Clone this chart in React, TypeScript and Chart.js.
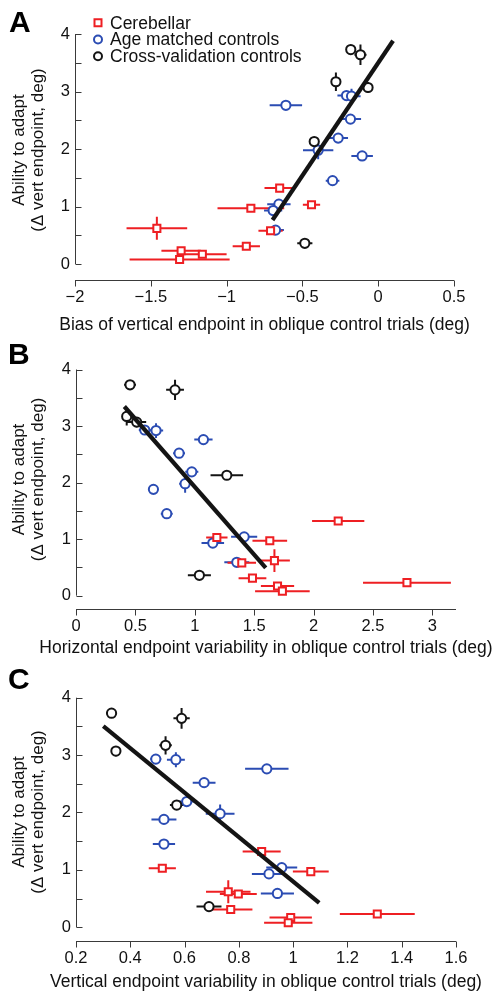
import React, { useEffect, useRef } from 'react';
import { Chart, registerables } from 'chart.js';

Chart.register(...registerables);

const FONT = "'Liberation Sans', Arial, Helvetica, sans-serif";
const RED = '#ee1f23';
const BLUE = '#2b4cb3';
const BLACK = '#141414';
const AXIS = '#3a3a3a';
const TEXT = '#111111';

// ---- Shared y values (ability to adapt, deg) per subject ----
const cerebellarY = [0.62, 0.23, 0.17, 0.08, 0.31, 0.97, 1.32, 0.58, 1.03];
const cerebellarYErr = [0.2, 0, 0, 0, 0, 0, 0, 0, 0];
const ageY = [2.76, 2.93, 2.92, 2.52, 2.19, 1.98, 1.88, 1.45, 1.04, 0.93, 0.59];
const ageYErr = [0, 0, 0.13, 0, 0, 0.16, 0, 0, 0, 0, 0];
const crossY = [3.73, 3.64, 3.17, 3.07, 2.13, 0.36];
const crossYErr = [0, 0.18, 0.16, 0.09, 0, 0];

// ---- Panel A: bias of vertical endpoint ----
const aCerebellarX = [-1.46, -1.3, -1.16, -1.31, -0.87, -0.84, -0.65, -0.71, -0.44];
const aCerebellarXErr = [0.2, 0.13, 0.16, 0.33, 0.09, 0.22, 0.1, 0.08, 0.057];
const aAgeX = [-0.609, -0.209, -0.176, -0.183, -0.264, -0.396, -0.106, -0.301, -0.655, -0.693, -0.677];
const aAgeXErr = [0.107, 0.06, 0.06, 0.07, 0.065, 0.1, 0.071, 0.045, 0.077, 0.06, 0.055];
const aCrossX = [-0.181, -0.117, -0.279, -0.067, -0.422, -0.484];
const aCrossXErr = [0.03, 0.04, 0.03, 0.03, 0.03, 0.05];
const aFitX = [-0.697, 0.098];
const aFitY = [0.765, 3.883];
const aXTicks = [-2, -1.5, -1, -0.5, 0, 0.5];

// ---- Panel B: horizontal endpoint variability ----
const bCerebellarX = [1.671, 2.787, 1.697, 1.738, 1.486, 1.632, 2.208, 1.396, 1.186];
const bCerebellarXErr = [0.13, 0.37, 0.14, 0.23, 0.117, 0.146, 0.22, 0.12, 0.09];
const bAgeX = [1.073, 0.579, 0.674, 0.868, 0.975, 0.919, 0.652, 0.764, 1.416, 1.152, 1.354];
const bAgeXErr = [0.077, 0.05, 0.06, 0.05, 0.055, 0.05, 0.03, 0.05, 0.11, 0.095, 0.105];
const bCrossX = [0.455, 0.834, 0.427, 0.511, 1.27, 1.039];
const bCrossXErr = [0.05, 0.075, 0.03, 0.08, 0.137, 0.097];
const bFitX = [0.407, 1.598];
const bFitY = [3.346, 0.492];
const bXTicks = [0, 0.5, 1, 1.5, 2, 2.5, 3];

// ---- Panel C: vertical endpoint variability ----
const cCerebellarX = [0.761, 1.31, 0.991, 0.982, 0.77, 1.065, 0.884, 0.798, 0.518];
const cCerebellarXErr = [0.082, 0.138, 0.078, 0.089, 0.08, 0.066, 0.07, 0.068, 0.05];
const cAgeX = [0.903, 0.494, 0.568, 0.672, 0.608, 0.731, 0.524, 0.524, 0.958, 0.911, 0.942];
const cAgeXErr = [0.08, 0.02, 0.033, 0.042, 0.03, 0.053, 0.046, 0.041, 0.057, 0.063, 0.061];
const cCrossX = [0.331, 0.589, 0.53, 0.347, 0.571, 0.69];
const cCrossXErr = [0.02, 0.03, 0.023, 0.015, 0.025, 0.046];
const cFitX = [0.3006, 1.096];
const cFitY = [3.506, 0.424];
const cXTicks = [0.2, 0.4, 0.6, 0.8, 1, 1.2, 1.4, 1.6];

const yTicks = [0, 0.5, 1, 1.5, 2, 2.5, 3, 3.5, 4];
const yTitle = ['Ability to adapt', '(\u0394 vert endpoint, deg)'];
const legendLabels = ['Cerebellar', 'Age matched controls', 'Cross-validation controls'];

const fmt = (v: number) => (v < 0 ? '\u2212' + String(Math.abs(v)) : String(v));

function points(xs: number[], ys: number[]) {
  return xs.map((x, i) => ({ x, y: ys[i] }));
}

function errorSegments(xs: number[], ys: number[], xErr: number[], yErr: number[]) {
  const pts: { x: number; y: number | null }[] = [];
  xs.forEach((x, i) => {
    const y = ys[i];
    if (xErr[i] > 0) {
      pts.push({ x: x - xErr[i], y }, { x: x + xErr[i], y }, { x, y: null });
    }
    if (yErr[i] > 0) {
      pts.push({ x, y: y - yErr[i] }, { x, y: y + yErr[i] }, { x, y: null });
    }
  });
  return pts;
}

const matlabAxes = {
  id: 'matlabAxes',
  beforeDatasetsDraw(chart: any) {
    const { ctx, chartArea, scales } = chart;
    const xs = scales.x;
    const ys = scales.y;
    ctx.save();
    ctx.strokeStyle = AXIS;
    ctx.lineWidth = 1;
    const xl = Math.round(chartArea.left) + 0.5;
    const yTop = ys.getPixelForValue(yTicks[yTicks.length - 1]);
    const yBot = ys.getPixelForValue(yTicks[0]);
    ctx.beginPath();
    ctx.moveTo(xl, yTop);
    ctx.lineTo(xl, yBot);
    ys.ticks.forEach((t: any) => {
      const py = Math.round(ys.getPixelForValue(t.value)) + 0.5;
      ctx.moveTo(xl, py);
      ctx.lineTo(xl + 6, py);
    });
    const yb = Math.round(chartArea.bottom) + 0.5;
    ctx.moveTo(xs.getPixelForValue(xs.min), yb);
    ctx.lineTo(xs.getPixelForValue(xs.max), yb);
    xs.ticks.forEach((t: any) => {
      const px = Math.round(xs.getPixelForValue(t.value)) + 0.5;
      ctx.moveTo(px, yb);
      ctx.lineTo(px, yb + 6);
    });
    ctx.stroke();
    ctx.restore();
  },
};

// x-axis title drawn without Chart.js's maxWidth squeeze (the titles are wider than the axis)
const xAxisTitle = {
  id: 'xAxisTitle',
  afterDraw(chart: any, _args: any, opts: any) {
    if (!opts || !opts.text) return;
    const { ctx, chartArea } = chart;
    ctx.save();
    ctx.font = `${opts.size}px ${FONT}`;
    ctx.fillStyle = TEXT;
    ctx.textAlign = 'center';
    ctx.textBaseline = 'middle';
    ctx.fillText(opts.text, (chartArea.left + chartArea.right) / 2 + (opts.dx || 0), opts.y);
    ctx.restore();
  },
};

const panelLegend = {
  id: 'panelLegend',
  afterDatasetsDraw(chart: any, _args: any, opts: any) {
    if (!opts || !opts.show) return;
    const { ctx } = chart;
    const styles = [
      { color: RED, shape: 'rect' },
      { color: BLUE, shape: 'circle' },
      { color: BLACK, shape: 'circle' },
    ];
    ctx.save();
    ctx.font = `17.5px ${FONT}`;
    ctx.textBaseline = 'middle';
    ctx.textAlign = 'left';
    legendLabels.forEach((label, i) => {
      const cy = opts.y0 + i * opts.dy;
      const st = styles[i];
      ctx.strokeStyle = st.color;
      ctx.fillStyle = '#ffffff';
      ctx.lineWidth = 2;
      ctx.beginPath();
      if (st.shape === 'rect') {
        ctx.rect(opts.x - 3.5, cy - 3.5, 7, 7);
      } else {
        ctx.arc(opts.x, cy, 4, 0, Math.PI * 2);
      }
      ctx.fill();
      ctx.stroke();
      ctx.fillStyle = TEXT;
      ctx.fillText(label, opts.textX, cy + 1);
    });
    ctx.restore();
  },
};

type PanelCfg = {
  top: number;
  height: number;
  areaTop: number;
  areaBottom: number;
  left: number;
  right: number;
  xMin: number;
  xMax: number;
  yMin: number;
  yMax: number;
  xTicks: number[];
  xTitle: string;
  titleY: number;
  cerebellarX: number[];
  cerebellarXErr: number[];
  ageX: number[];
  ageXErr: number[];
  crossX: number[];
  crossXErr: number[];
  fitX: number[];
  fitY: number[];
  legend: boolean;
};

const panels: PanelCfg[] = [
  {
    top: 0, height: 335, areaTop: 20, areaBottom: 280, left: 75, right: 454,
    xMin: -2, xMax: 0.5, yMin: -0.278, yMax: 4.244, xTicks: aXTicks,
    xTitle: 'Bias of vertical endpoint in oblique control trials (deg)', titleY: 325,
    cerebellarX: aCerebellarX, cerebellarXErr: aCerebellarXErr,
    ageX: aAgeX, ageXErr: aAgeXErr, crossX: aCrossX, crossXErr: aCrossXErr,
    fitX: aFitX, fitY: aFitY, legend: true,
  },
  {
    top: 335, height: 325, areaTop: 10, areaBottom: 274, left: 76, right: 456,
    xMin: 0, xMax: 3.2, yMin: -0.236, yMax: 4.347, xTicks: bXTicks,
    xTitle: 'Horizontal endpoint variability in oblique control trials (deg)', titleY: 313,
    cerebellarX: bCerebellarX, cerebellarXErr: bCerebellarXErr,
    ageX: bAgeX, ageXErr: bAgeXErr, crossX: bCrossX, crossXErr: bCrossXErr,
    fitX: bFitX, fitY: bFitY, legend: false,
  },
  {
    top: 660, height: 332, areaTop: 23, areaBottom: 281, left: 76, right: 456,
    xMin: 0.2, xMax: 1.6, yMin: -0.239, yMax: 4.256, xTicks: cXTicks,
    xTitle: 'Vertical endpoint variability in oblique control trials (deg)', titleY: 322,
    cerebellarX: cCerebellarX, cerebellarXErr: cCerebellarXErr,
    ageX: cAgeX, ageXErr: cAgeXErr, crossX: cCrossX, crossXErr: cCrossXErr,
    fitX: cFitX, fitY: cFitY, legend: false,
  },
];

function buildConfig(p: PanelCfg): any {
  const errDs = (data: any[], color: string, order: number) => ({
    type: 'scatter',
    data,
    showLine: true,
    spanGaps: false,
    borderColor: color,
    borderWidth: 2,
    pointRadius: 0,
    tension: 0,
    order,
  });
  const markerDs = (label: string, data: any[], color: string, style: string, radius: number, order: number) => ({
    label,
    data,
    pointStyle: style,
    pointRadius: radius,
    pointBorderWidth: 2,
    pointBorderColor: color,
    pointBackgroundColor: '#ffffff',
    borderColor: color,
    backgroundColor: '#ffffff',
    showLine: false,
    order,
  });
  const datasets = [
    {
      label: 'fit',
      data: points(p.fitX, p.fitY),
      showLine: true,
      borderColor: BLACK,
      borderWidth: 4.2,
      pointRadius: 0,
      order: 0,
    },
    markerDs(legendLabels[0], points(p.cerebellarX, cerebellarY), RED, 'rect', 5, 1),
    markerDs(legendLabels[2], points(p.crossX, crossY), BLACK, 'circle', 4.6, 2),
    markerDs(legendLabels[1], points(p.ageX, ageY), BLUE, 'circle', 4.6, 3),
    errDs(errorSegments(p.cerebellarX, cerebellarY, p.cerebellarXErr, cerebellarYErr), RED, 5),
    errDs(errorSegments(p.crossX, crossY, p.crossXErr, crossYErr), BLACK, 6),
    errDs(errorSegments(p.ageX, ageY, p.ageXErr, ageYErr), BLUE, 7),
  ];
  return {
    type: 'scatter',
    data: { datasets },
    plugins: [matlabAxes, panelLegend, xAxisTitle],
    options: {
      responsive: false,
      maintainAspectRatio: false,
      animation: false,
      events: [],
      layout: { padding: { top: p.areaTop, right: 493 - p.right, bottom: 0, left: 0 } },
      plugins: {
        legend: { display: false },
        tooltip: { enabled: false },
        panelLegend: { show: p.legend, x: 98, textX: 110, y0: 22.7, dy: 16.8 },
        xAxisTitle: { text: p.xTitle, y: p.titleY, size: 17.5 },
      },
      scales: {
        x: {
          type: 'linear',
          min: p.xMin,
          max: p.xMax,
          afterBuildTicks: (s: any) => {
            s.ticks = p.xTicks.map((v) => ({ value: v }));
          },
          afterFit: (s: any) => {
            s.height = p.height - p.areaBottom;
          },
          grid: { display: false, drawTicks: false },
          border: { display: false },
          ticks: {
            autoSkip: false,
            maxRotation: 0,
            padding: 8,
            color: TEXT,
            font: { family: FONT, size: 16.5 },
            callback: (v: any) => fmt(Number(v)),
          },
          title: { display: false },
        },
        y: {
          type: 'linear',
          min: p.yMin,
          max: p.yMax,
          afterBuildTicks: (s: any) => {
            s.ticks = yTicks.map((v) => ({ value: v }));
          },
          afterFit: (s: any) => {
            s.width = p.left;
          },
          grid: { display: false, drawTicks: false },
          border: { display: false },
          ticks: {
            autoSkip: false,
            padding: 5,
            color: TEXT,
            font: { family: FONT, size: 16.5 },
            callback: (v: any) => (Number.isInteger(Number(v)) ? String(v) : ''),
          },
          title: {
            display: true,
            text: yTitle,
            color: TEXT,
            font: { family: FONT, size: 17, lineHeight: 1.1 },
            padding: { top: 10, bottom: 0 },
          },
        },
      },
    },
  };
}

function Panel({ cfg }: { cfg: PanelCfg }) {
  const ref = useRef<HTMLCanvasElement | null>(null);
  useEffect(() => {
    if (!ref.current) return;
    const chart = new Chart(ref.current, buildConfig(cfg));
    return () => chart.destroy();
  }, [cfg]);
  return (
    <canvas
      ref={ref}
      width={493}
      height={cfg.height}
      style={{ position: 'absolute', left: 0, top: cfg.top, width: 493, height: cfg.height }}
    />
  );
}

const letterStyle: React.CSSProperties = {
  position: 'absolute',
  fontFamily: FONT,
  fontWeight: 'bold',
  fontSize: 30,
  lineHeight: '30px',
  color: '#000',
};

export default function App() {
  return (
    <div
      style={{
        position: 'absolute',
        left: 0,
        top: 0,
        width: 493,
        height: 992,
        background: '#ffffff',
        overflow: 'hidden',
      }}
    >
      {panels.map((p, i) => (
        <Panel key={i} cfg={p} />
      ))}
      <div style={{ ...letterStyle, left: 9, top: 7 }}>A</div>
      <div style={{ ...letterStyle, left: 8, top: 339 }}>B</div>
      <div style={{ ...letterStyle, left: 8, top: 664 }}>C</div>
    </div>
  );
}
